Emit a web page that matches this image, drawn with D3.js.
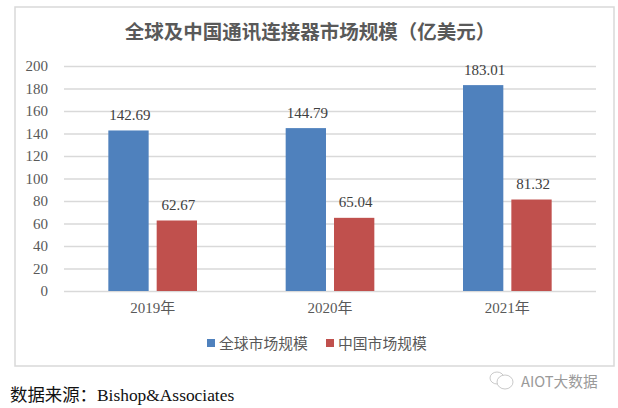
<!DOCTYPE html>
<html>
<head>
<meta charset="utf-8">
<script src="https://cdn.jsdelivr.net/npm/d3@7"></script>
<style>
    html, body { margin: 0; padding: 0; background: #fff; }
    svg { display: block; }
    text { font-family: "Liberation Serif", "Noto Sans CJK SC", serif; }
    .cjk { font-family: "Noto Sans CJK SC", sans-serif; }
</style>
</head>
<body>
<div id="myChart"></div>
<script>
var years = ["2019年", "2020年", "2021年"];
var seriesNames = ["全球市场规模", "中国市场规模"];
var globalValues = [142.69, 144.79, 183.01];
var chinaValues = [62.67, 65.04, 81.32];
var yTicks = [0, 20, 40, 60, 80, 100, 120, 140, 160, 180, 200];
var seriesColors = ["#4f81bd", "#c0504d"];

var width = 618, height = 408;
var margin = { top: 66, right: 22, bottom: 117, left: 64 };

var svg = d3.select("#myChart")
    .append("svg")
    .attr("width", width)
    .attr("height", height);

//Outer frame of the chart
svg.append("rect")
    .attr("x", 15)
    .attr("y", 7)
    .attr("width", 599)
    .attr("height", 359)
    .attr("fill", "#fff")
    .attr("stroke", "#d9d9d9")
    .attr("stroke-width", 1.5);

//Title
svg.append("text")
    .attr("class", "cjk")
    .attr("x", 310)
    .attr("y", 39)
    .attr("text-anchor", "middle")
    .attr("font-size", 19.5)
    .attr("font-weight", "bold")
    .attr("fill", "#595959")
    .text("全球及中国通讯连接器市场规模（亿美元）");

//Set ranges
var x = d3.scaleBand()
    .domain(years)
    .range([margin.left, width - margin.right])
    .paddingInner(0.5)
    .paddingOuter(0.25);
var xInner = d3.scaleBand()
    .domain([0, 1])
    .range([0, x.bandwidth()])
    .paddingInner(0.166);
var y = d3.scaleLinear()
    .domain([0, 200])
    .range([height - margin.bottom, margin.top]);

//Y axis with the gridlines
var yAxis = svg.append("g")
    .attr("transform", "translate(" + margin.left + ",0)")
    .call(d3.axisLeft(y)
        .tickValues(yTicks)
        .tickSize(-(width - margin.left - margin.right))
        .tickPadding(16));
yAxis.select(".domain").remove();
yAxis.selectAll("line")
    .attr("stroke", "#d9d9d9")
    .attr("stroke-width", 1.4);
yAxis.selectAll("text")
    .attr("font-size", 15)
    .attr("font-family", "Liberation Serif")
    .attr("fill", "#595959");

//Bars and labels for both series
[globalValues, chinaValues].forEach(function (values, s) {
    svg.append("g")
        .selectAll("rect")
        .data(values)
        .enter()
        .append("rect")
        .attr("x", function (d, i) { return x(years[i]) + xInner(s); })
        .attr("y", function (d) { return y(d); })
        .attr("width", xInner.bandwidth())
        .attr("height", function (d) { return y(0) - y(d); })
        .attr("fill", seriesColors[s]);

    svg.append("g")
        .selectAll("text")
        .data(values)
        .enter()
        .append("text")
        .attr("x", function (d, i) { return x(years[i]) + xInner(s) + xInner.bandwidth() / 2 + 1.5; })
        .attr("y", function (d) { return y(d) - 10.5; })
        .attr("text-anchor", "middle")
        .attr("font-size", 15)
        .attr("fill", "#404040")
        .text(function (d) { return d.toFixed(2); });
});

//X axis labels
var xAxis = svg.append("g")
    .attr("transform", "translate(0," + y(0) + ")")
    .call(d3.axisBottom(x).tickSize(0).tickPadding(11));
xAxis.select(".domain").remove();
xAxis.selectAll("text")
    .attr("font-size", 15)
    .attr("font-family", "Liberation Serif, Noto Sans CJK SC")
    .attr("fill", "#595959");

//Legend
var legendX = [207, 326];
seriesNames.forEach(function (name, s) {
    svg.append("rect")
        .attr("x", legendX[s])
        .attr("y", 339)
        .attr("width", 8)
        .attr("height", 8)
        .attr("fill", seriesColors[s]);
    svg.append("text")
        .attr("class", "cjk")
        .attr("x", legendX[s] + 12)
        .attr("y", 348.5)
        .attr("font-size", 14.8)
        .attr("fill", "#595959")
        .text(name);
});

//Source line under the frame
var source = svg.append("text")
    .attr("x", 10)
    .attr("y", 400.5)
    .attr("font-size", 17.4)
    .attr("fill", "#111");
source.append("tspan").attr("class", "cjk").text("数据来源：");
source.append("tspan").attr("x", 97).text("Bishop&Associates");

//Watermark
var mark = svg.append("g")
    .attr("fill", "none")
    .attr("stroke", "#bbb")
    .attr("stroke-width", 0.8);
mark.append("ellipse").attr("cx", 497).attr("cy", 378).attr("rx", 7).attr("ry", 6);
mark.append("ellipse").attr("cx", 505).attr("cy", 382).attr("rx", 8).attr("ry", 7).attr("fill", "#fff");
svg.append("text")
    .attr("class", "cjk")
    .attr("x", 521)
    .attr("y", 387)
    .attr("font-size", 14.7)
    .attr("fill", "#9a9a9a")
    .text("AIOT大数据");
</script>
</body>
</html>
